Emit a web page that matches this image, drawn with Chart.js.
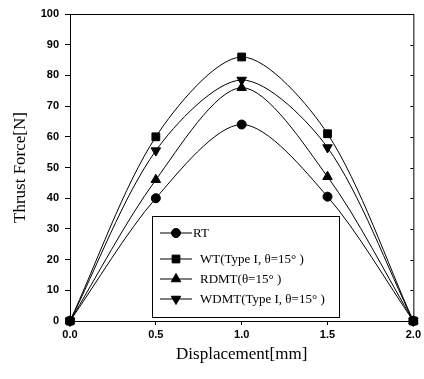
<!DOCTYPE html>
<html>
<head>
<meta charset="utf-8">
<script src="https://cdn.jsdelivr.net/npm/chart.js@4"></script>
<style>
  html, body { margin: 0; padding: 0; background: #fff; }
</style>
</head>
<body>
<canvas id="forceChart" width="424" height="379"></canvas>
<script>
// values
const displacement = [0, 0.5, 1.0, 1.5, 2.0];
const rtForce = [0, 40, 64, 40.5, 0];
const wtForce = [0, 60, 86, 61, 0];
const rdmtForce = [0, 46, 76, 47, 0];
const wdmtForce = [0, 55.5, 78.5, 56.5, 0];
const seriesLabels = ['RT', 'WT(Type I, \u03b8=15\u00b0 )', 'RDMT(\u03b8=15\u00b0 )', 'WDMT(Type I, \u03b8=15\u00b0 )'];

const tick_font = { family: '"Liberation Sans", Arial, sans-serif', size: 11, weight: 'bold' };
const title_font = { family: '"Liberation Serif", "Times New Roman", serif', size: 17 };

function to_points(ys) {
  return displacement.map((x, i) => ({ x: x, y: ys[i] }));
}

function make_dataset(label, ys, style, radius, rotation) {
  return {
    label: label,
    data: to_points(ys),
    borderColor: '#000',
    backgroundColor: '#000',
    borderWidth: 1,
    pointStyle: style,
    pointRadius: radius,
    pointRotation: rotation,
    pointBorderWidth: 1,
    tension: 0.3,
    clip: false
  };
}

// box around the plot + small inner ticks on the right side
const frame = {
  id: 'frame',
  beforeDatasetsDraw(chart) {
    const { ctx, chartArea } = chart;
    ctx.save();
    ctx.strokeStyle = '#000';
    ctx.lineWidth = 1;
    ctx.strokeRect(chartArea.left + 0.5, chartArea.top + 0.5,
      chartArea.right - chartArea.left, chartArea.bottom - chartArea.top);
    const ys = chart.scales.y;
    ctx.beginPath();
    ys.ticks.forEach(t => {
      const py = Math.round(ys.getPixelForValue(t.value)) + 0.5;
      ctx.moveTo(chartArea.right, py);
      ctx.lineTo(chartArea.right - 3, py);
    });
    ctx.stroke();
    ctx.restore();
  }
};

// legend drawn inside the plot area
const legendBox = {
  id: 'legendBox',
  afterDatasetsDraw(chart, args, opts) {
    const { ctx, chartArea } = chart;
    const x = chartArea.left + opts.left;
    const y = chartArea.top + opts.top;
    ctx.save();
    ctx.fillStyle = '#fff';
    ctx.fillRect(x, y, opts.width, opts.height);
    ctx.strokeStyle = '#000';
    ctx.lineWidth = 1;
    ctx.strokeRect(x + 0.5, y + 0.5, opts.width, opts.height);
    chart.data.datasets.forEach((ds, i) => {
      const ry = y + opts.rows[i];
      ctx.strokeStyle = '#000';
      ctx.beginPath();
      ctx.moveTo(x + 8, ry);
      ctx.lineTo(x + 40, ry);
      ctx.stroke();
      ctx.fillStyle = '#000';
      Chart.helpers.drawPoint(ctx, {
        pointStyle: ds.pointStyle,
        radius: ds.pointRadius,
        rotation: ds.pointRotation || 0,
        borderWidth: 1
      }, x + 24, ry);
      ctx.font = '13px "Liberation Serif", "Times New Roman", serif';
      ctx.textBaseline = 'middle';
      ctx.textAlign = 'left';
      ctx.fillText(ds.label, x + opts.textX[i], ry + 1);
    });
    ctx.restore();
  }
};

const ctx = document.getElementById('forceChart').getContext('2d');
const forceChart = new Chart(ctx, {
  type: 'line',
  data: {
    datasets: [
      make_dataset(seriesLabels[0], rtForce, 'circle', 4.5, 0),
      make_dataset(seriesLabels[1], wtForce, 'rect', 5.5, 0),
      make_dataset(seriesLabels[2], rdmtForce, 'triangle', 5.5, 0),
      make_dataset(seriesLabels[3], wdmtForce, 'triangle', 5.5, 180)
    ]
  },
  plugins: [frame, legendBox],
  options: {
    responsive: false,
    animation: false,
    devicePixelRatio: 1,
    events: [],
    layout: { padding: { top: 14, right: 10, left: 0, bottom: 0 } },
    plugins: {
      legend: { display: false },
      tooltip: { enabled: false },
      legendBox: {
        left: 82, top: 202, width: 187, height: 101,
        rows: [17, 43, 63, 83],
        textX: [41, 48, 48, 48]
      }
    },
    scales: {
      x: {
        type: 'linear',
        min: 0,
        max: 2,
        afterFit: s => { s.height = 58; },
        ticks: {
          stepSize: 0.5,
          color: '#000',
          font: tick_font,
          padding: 3,
          maxRotation: 0,
          callback: v => v.toFixed(1)
        },
        grid: { drawOnChartArea: false, drawTicks: true, tickLength: 4, color: '#000' },
        border: { display: true, color: '#000', width: 1 },
        title: {
          display: true,
          text: 'Displacement[mm]',
          color: '#000',
          font: title_font,
          padding: { top: 0, bottom: 14 }
        }
      },
      y: {
        min: 0,
        max: 100,
        afterFit: s => { s.width = 70; },
        ticks: {
          stepSize: 10,
          color: '#000',
          font: tick_font,
          padding: 6
        },
        grid: { drawOnChartArea: false, drawTicks: true, tickLength: 5, color: '#000' },
        border: { display: true, color: '#000', width: 1 },
        title: {
          display: true,
          text: 'Thrust Force[N]',
          color: '#000',
          font: title_font,
          padding: { top: 10, bottom: 0 }
        }
      }
    }
  }
});
</script>
</body>
</html>
